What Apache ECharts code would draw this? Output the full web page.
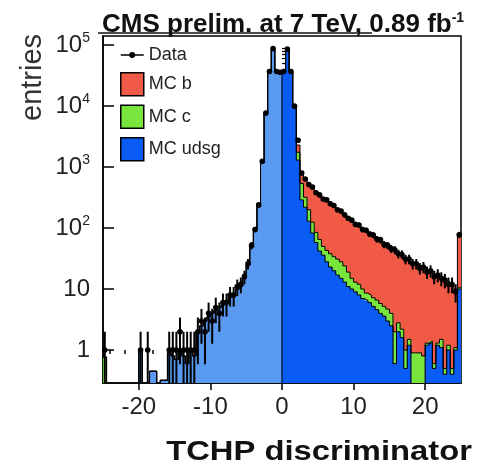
<!DOCTYPE html>
<html>
<head>
<meta charset="utf-8">
<script src="https://cdn.jsdelivr.net/npm/echarts@6/dist/echarts.min.js"></script>
<style>
  html, body { margin: 0; padding: 0; background: #fff; }
  #chart { width: 484px; height: 467px; }
</style>
</head>
<body>
<div id="chart"></div>
<script>
// Histogram binning: 100 bins of width 0.5 from -25 to 25 (last bin holds overflow)
const binStart = -25;
const binWidth = 0.5;

// Simulated jet flavours (entries per bin)
const mcUdsg = [
  0, 0, 0, 0, 0, 0, 0, 0, 0, 0,
  1, 0, 0, 0.45, 0.45, 0, 0.32, 0.32, 0.9, 0.8,
  0.7, 1, 0.8, 0.6, 1, 0.8, 2, 2.5, 3, 3.5,
  4, 4.5, 5, 5.5, 6.5, 7.5, 8.5, 10, 11, 17,
  25, 50, 100, 250, 1200, 7700, 36000, 85000, 36000, 36000,
  36000, 85000, 36000, 10000, 1300, 290, 220, 130, 83, 58,
  42, 36, 28, 23, 20, 17, 15, 13, 11, 10,
  9, 8, 7, 6.5, 6, 5.2, 4.6, 4, 3.6, 3,
  2.5, 0.6, 2, 1.6, 0.5, 1.2, 0.2, 0.15, 0.15, 0.2,
  1.2, 1.3, 0.5, 1.2, 1.1, 0.4, 1, 0.4, 1, 10
];
const mcC = [
  0.77, 0, 0, 0, 0, 0, 0, 0, 0, 0,
  0, 0, 0, 0, 0, 0, 0, 0, 0, 0,
  0, 0, 0, 0, 0, 0, 0, 0, 0, 0,
  0, 0, 0, 0, 0, 0, 0, 0, 0, 0,
  0, 0, 0, 0, 0, 0, 0, 0, 0, 0,
  0, 0, 0, 0, 450, 250, 100, 70, 42, 27,
  23, 14, 15, 15, 14, 14, 13, 11, 8, 5,
  4, 4, 3, 2.1, 2, 2, 2, 1.8, 1.6, 1.7,
  1.5, 1.4, 0.8, 0.6, 0.5, 0.3, 0.7, 0.75, 0.75, 0.6,
  0.1, 0.1, 0.1, 0.1, 0.4, 0.1, 0.2, 0.1, 0.1, 0.5
];
const mcB = [
  0, 0, 0, 0, 0, 0, 0, 0, 0, 0,
  0, 0, 0, 0, 0, 0, 0, 0, 0, 0,
  0, 0, 0, 0, 0, 0, 0, 0, 0, 0,
  0, 0, 0, 0, 0, 0, 0, 0, 0, 0,
  0, 0, 0, 0, 0, 0, 0, 0, 0, 0,
  0, 0, 0, 100, 550, 310, 330, 340, 325, 305,
  280, 260, 237, 217, 196, 174, 157, 144, 131, 117,
  105, 96, 88, 81, 75, 68, 61, 56, 51, 46,
  43, 41, 37, 34, 31, 28.5, 26, 24, 22.6, 21.2,
  18.7, 17.6, 16.9, 15.2, 14, 13.5, 11.8, 11, 8.9, 66.5
];
// Observed entries per bin
const dataCounts = [
  1, 0, 0, 0, 0, 0, 0, 0, 0, 0,
  1, 0, 1, 0, 0, 0, 0, 0, 1, 1,
  1, 2, 1, 1, 1, 1, 2, 3, 2, 4,
  3, 5, 4, 6, 6, 8, 8, 11, 12, 16,
  26, 52, 95, 240, 1250, 7700, 37000, 88000, 37000, 36000,
  37000, 86000, 37000, 10000, 2750, 800, 640, 520, 470, 380,
  350, 300, 290, 250, 235, 200, 190, 165, 145, 135,
  115, 112, 95, 92, 80, 77, 66, 64, 54, 52,
  46, 44, 38, 37, 31, 31, 26, 26, 22, 23,
  19, 20, 16, 17, 15, 14, 12, 12, 9, 78
];

// Axis tick values
const xLabelValues = [-20, -10, 0, 10, 20];
const xMinorValues = [-24, -22, -18, -16, -14, -12, -8, -6, -4, -2, 2, 4, 6, 8, 12, 14, 16, 18, 22, 24];
const yDecades = [0, 1, 2, 3, 4, 5];
const yMinorMultipliers = [2, 3, 4, 5, 6, 7, 8, 9];

const xMin = -25, xMax = 25;
const yMin = -0.54, yMax = 5.15;  // log10 of entries
const floorLog = yMin - 1;        // empty bins go below the frame

const lg = v => (v > 0 ? Math.log10(v) : floorLog);

// stacked sums
const sumUC = mcUdsg.map((u, i) => u + mcC[i]);
const sumAll = sumUC.map((s, i) => s + mcB[i]);

const yMinorValues = [];
for (let d = -1; d <= 5; d++) {
  yMinorMultipliers.forEach(m => {
    const v = Math.log10(m) + d;
    if (v > yMin && v < yMax) yMinorValues.push(v);
  });
}

const colB = '#f05a46';
const colC = '#78e63c';
const colUdsg = '#0a5cf5';
const colUdsgNeg = '#5a9af0';

function edge(i) { return binStart + i * binWidth; }

// filled band [lower, upper] for each bin
function bandData(lower, upper) {
  return upper.map((u, i) => [i, lower ? lg(lower[i]) : floorLog, lg(u)]);
}

function bandRender(color, negColor) {
  return function (params, api) {
    const i = api.value(0);
    const lo = api.value(1), hi = api.value(2);
    if (!(hi > lo)) return;
    const p0 = api.coord([edge(i), hi]);
    const p1 = api.coord([edge(i + 1), lo]);
    const c = (negColor && edge(i) < 0) ? negColor : color;
    const cs = params.coordSys;
    // slight overlap so neighbouring bins do not leave hairline seams
    return {
      type: 'rect',
      shape: echarts.graphic.clipRectByRect(
        { x: p0[0] - 0.4, y: p0[1], width: p1[0] - p0[0] + 0.8, height: p1[1] - p0[1] },
        { x: cs.x, y: cs.y, width: cs.width, height: cs.height }
      ),
      style: { fill: c, stroke: null }
    };
  };
}

// step outline of a histogram
function outline(vals) {
  const pts = vals.map((v, i) => [edge(i), lg(v)]);
  pts.push([edge(vals.length), lg(vals[vals.length - 1])]);
  return pts;
}

function dataRender(params, api) {
  const i = api.value(0);
  const n = api.value(1);
  if (!(n > 0)) return;
  const xc = edge(i) + binWidth / 2;
  const err = Math.sqrt(n);
  const pc = api.coord([xc, Math.log10(n)]);
  const pl = api.coord([edge(i), Math.log10(n)]);
  const pr = api.coord([edge(i + 1), Math.log10(n)]);
  const pUp = api.coord([xc, Math.log10(n + err)]);
  const pDn = api.coord([xc, n - err > 0 ? Math.log10(n - err) : floorLog]);
  const cs = params.coordSys;
  const clipY = y => Math.max(cs.y, Math.min(cs.y + cs.height, y));
  return {
    type: 'group',
    children: [
      { type: 'line', shape: { x1: pc[0], y1: clipY(pUp[1]), x2: pc[0], y2: clipY(pDn[1]) },
        style: { stroke: '#000', lineWidth: 2 } },
      { type: 'line', shape: { x1: pl[0], y1: pc[1], x2: pr[0], y2: pc[1] },
        style: { stroke: '#000', lineWidth: 2 } },
      { type: 'circle', shape: { cx: pc[0], cy: pc[1], r: 2.8 }, style: { fill: '#000' } }
    ]
  };
}

const chart = echarts.init(document.getElementById('chart'), null, { renderer: 'canvas' });

const fontFam = '"Liberation Sans", Arial, sans-serif';

chart.setOption({
  animation: false,
  backgroundColor: '#fff',
  title: {
    text: 'CMS prelim. at 7 TeV, 0.89 fb{s|-1}',
    left: 97, top: 6,
    textStyle: {
      fontFamily: fontFam, fontSize: 26, fontWeight: 'bold', color: '#111',
      rich: { s: { fontFamily: fontFam, fontSize: 14, fontWeight: 'bold', color: '#111', padding: [0, 0, 14, 0] } }
    }
  },
  legend: {
    orient: 'vertical',
    left: 115, top: 41,
    itemWidth: 23, itemHeight: 23, itemGap: 8,
    textStyle: { fontFamily: fontFam, fontSize: 18, color: '#222', padding: [0, 0, 0, 0] },
    data: [
      { name: 'Data', icon: 'path://M0,10.7H23V12.3H0Z M14.5,11.5A3,3 0 1 1 8.5,11.5A3,3 0 1 1 14.5,11.5Z', itemStyle: { color: '#000', borderWidth: 0 } },
      { name: 'MC b', icon: 'rect', itemStyle: { color: colB, borderColor: '#000', borderWidth: 1.5 } },
      { name: 'MC c', icon: 'rect', itemStyle: { color: colC, borderColor: '#000', borderWidth: 1.5 } },
      { name: 'MC udsg', icon: 'rect', itemStyle: { color: colUdsg, borderColor: '#000', borderWidth: 1.5 } }
    ]
  },
  graphic: [
    {
      type: 'line', shape: { x1: 98, y1: 33, x2: 372, y2: 33 },
      style: { stroke: '#111', lineWidth: 1.5 }, silent: true
    },
    {
      type: 'text', x: 47, y: 121, rotation: Math.PI / 2,
      style: { text: 'entries', font: '29px ' + fontFam, fill: '#333', textAlign: 'left', textVerticalAlign: 'bottom' }
    },
    {
      type: 'text', x: 472, y: 452, scaleX: 1.17,
      style: { text: 'TCHP discriminator', font: 'bold 28px ' + fontFam, fill: '#111', textAlign: 'right', textVerticalAlign: 'middle' }
    }
  ],
  grid: {
    left: 103, right: 23, top: 36, bottom: 84,
    show: true, borderColor: '#000', borderWidth: 1.5, backgroundColor: 'transparent'
  },
  xAxis: [
    {
      type: 'value', min: xMin, max: xMax,
      axisLine: { show: true, onZero: false, lineStyle: { color: '#000', width: 1.5 } },
      axisTick: { show: true, inside: false, length: 7, customValues: xLabelValues, lineStyle: { color: '#000', width: 1.5 } },
      axisLabel: { show: true, customValues: xLabelValues, margin: 12, fontFamily: fontFam, fontSize: 24, color: '#222' },
      splitLine: { show: false }
    },
    {
      type: 'value', min: xMin, max: xMax, position: 'bottom',
      axisLine: { show: false },
      axisTick: { show: true, inside: false, length: 4, customValues: xMinorValues, lineStyle: { color: '#000', width: 1.5 } },
      axisLabel: { show: false },
      splitLine: { show: false }
    }
  ],
  yAxis: [
    {
      type: 'value', min: yMin, max: yMax,
      axisLine: { show: true, onZero: false, lineStyle: { color: '#000', width: 1.5 } },
      axisTick: { show: true, inside: true, length: 11, customValues: yDecades, lineStyle: { color: '#000', width: 1.5 } },
      axisLabel: {
        show: true, customValues: yDecades, margin: 13,
        fontFamily: fontFam, fontSize: 24, color: '#222',
        formatter: v => {
          const d = Math.round(v);
          if (d === 0) return '1';
          if (d === 1) return '10';
          return '10{s|' + d + '}';
        },
        rich: { s: { fontFamily: fontFam, fontSize: 14, color: '#222', padding: [0, 0, 14, 0] } }
      },
      splitLine: { show: false }
    },
    {
      type: 'value', min: yMin, max: yMax, position: 'left',
      axisLine: { show: false },
      axisTick: { show: true, inside: true, length: 5, customValues: yMinorValues, lineStyle: { color: '#000', width: 1.2 } },
      axisLabel: { show: false },
      splitLine: { show: false }
    }
  ],
  series: [
    { name: 'MC b', type: 'custom', renderItem: bandRender(colB), data: bandData(sumUC, sumAll), itemStyle: { color: colB }, z: 2 },
    { name: 'MC c', type: 'custom', renderItem: bandRender(colC), data: bandData(mcUdsg, sumUC), itemStyle: { color: colC }, z: 2 },
    { name: 'MC udsg', type: 'custom', renderItem: bandRender(colUdsg, colUdsgNeg), data: bandData(null, mcUdsg), itemStyle: { color: colUdsg }, z: 2 },
    { name: 'outline all', type: 'line', step: 'end', data: outline(sumAll), symbol: 'none', lineStyle: { color: '#000', width: 1 }, z: 3, clip: true, silent: true },
    { name: 'outline uc', type: 'line', step: 'end', data: outline(sumUC), symbol: 'none', lineStyle: { color: '#000', width: 1 }, z: 3, clip: true, silent: true },
    { name: 'outline u', type: 'line', step: 'end', data: outline(mcUdsg), symbol: 'none', lineStyle: { color: '#000', width: 1 }, z: 3, clip: true, silent: true },
    { name: 'udsg split', type: 'line', data: [[0, floorLog], [0, lg(mcUdsg[49])]], symbol: 'none', lineStyle: { color: '#000', width: 1 }, z: 3, clip: true, silent: true },
    { name: 'Data', type: 'custom', renderItem: dataRender, data: dataCounts.map((n, i) => [i, n]), itemStyle: { color: '#000' }, z: 4 }
  ]
});
</script>
</body>
</html>
